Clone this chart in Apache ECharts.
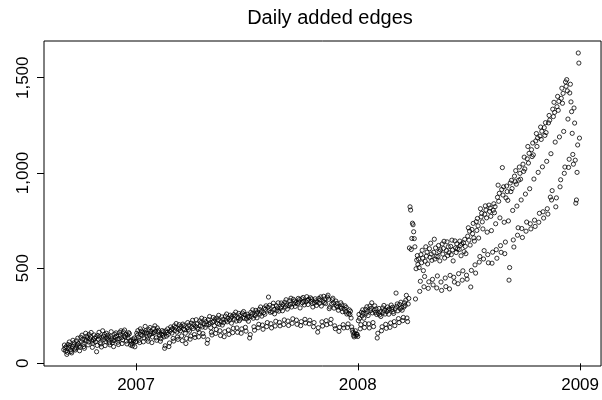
<!DOCTYPE html>
<html>
<head>
<meta charset="utf-8">
<script src="https://cdn.jsdelivr.net/npm/echarts@6/dist/echarts.min.js"></script>
<style>html,body{margin:0;padding:0;background:#fff}#c{width:602px;height:400px}</style>
</head>
<body>
<div id="c"></div>
<script>
var titleText = 'Daily added edges';
var startDate = '2006-09-04';
var yearTicks = ['2007', '2008', '2009'];
var yTicks = [0, 500, 1000, 1500];
// daily added edges, one row per week (Mon..Sun)
var weeks = [
[72,96,81,64,88,47,58],
[99,84,112,93,70,62,55],
[88,121,97,108,76,70,82],
[118,96,132,104,91,66,84],
[137,112,148,126,101,88,79],
[126,158,119,143,134,97,112],
[151,128,139,162,117,84,106],
[122,149,131,113,140,61,94],
[146,127,163,138,109,102,86],
[134,171,142,125,152,93,115],
[158,131,147,122,138,108,97],
[141,166,129,108,119,88,121],
[153,137,160,144,126,111,99],
[129,162,148,171,135,104,123],
[166,143,175,139,152,117,102],
[148,132,161,155,119,96,118],
[104,92,127,118,133,87,112],
[115,158,147,172,136,121,109],
[181,152,169,146,163,113,134],
[163,194,171,158,142,128,116],
[177,149,188,166,155,109,138],
[159,183,162,197,170,134,121],
[186,165,174,151,144,116,129],
[154,172,148,166,139,79,92],
[171,143,162,181,152,88,107],
[168,191,176,159,183,131,117],
[197,172,188,209,164,138,126],
[178,203,185,171,195,144,119],
[206,181,198,176,158,104,131],
[188,214,177,201,169,127,143],
[211,192,226,183,204,151,136],
[194,229,207,186,178,139,162],
[223,198,214,237,191,156,141],
[208,231,189,219,202,105,124],
[229,204,246,213,187,163,149],
[216,241,222,198,233,157,178],
[238,209,227,252,205,171,146],
[219,244,201,231,214,140,166],
[248,226,259,218,236,175,152],
[227,253,238,211,247,161,184],
[256,231,248,269,222,186,163],
[239,262,224,251,233,158,181],
[264,241,272,236,255,189,169],
[233,258,247,221,244,133,151],
[268,246,259,281,237,192,174],
[251,278,262,239,270,187,205],
[283,259,296,271,248,201,179],
[266,291,258,284,302,193,214],
[294,348,277,305,268,208,186],
[271,299,316,283,260,196,221],
[302,279,291,318,274,215,197],
[289,317,298,276,309,204,228],
[321,296,334,307,285,222,199],
[303,329,311,342,296,210,234],
[336,312,327,299,318,227,205],
[314,341,322,335,291,198,219],
[339,318,346,326,307,231,212],
[323,350,331,309,337,208,226],
[344,326,338,315,296,192,214],
[317,339,328,304,322,164,187],
[341,315,333,349,301,218,196],
[326,352,319,338,314,224,203],
[348,358,336,287,296,209,231],
[311,334,342,318,290,197,182],
[327,301,315,296,279,168,189],
[296,318,289,307,271,203,186],
[284,302,271,293,259,188,207],
[262,281,256,274,238,191,174],
[163,147,139,158,171,144,153],
[152,141,224,257,236,181,203],
[268,249,281,262,237,188,209],
[284,262,297,273,251,207,186],
[301,277,289,318,265,214,193],
[279,302,268,286,257,133,158],
[263,288,254,271,246,171,192],
[291,268,304,279,259,205,184],
[272,296,281,258,287,189,212],
[306,283,294,271,262,219,198],
[288,369,299,312,276,235,214],
[309,286,321,294,279,224,241],
[296,318,304,331,357,238,219],
[312,341,606,822,805,598,656],
[736,728,691,655,612,338,497],
[542,566,519,548,503,378,431],
[571,528,594,553,487,402,456],
[536,612,563,584,522,394,428],
[602,557,631,574,541,441,412],
[583,652,548,606,562,396,459],
[561,619,587,538,596,427,383],
[627,574,603,641,553,448,403],
[592,638,566,612,581,391,462],
[614,571,647,596,538,452,427],
[643,606,582,628,601,418,471],
[598,642,619,565,627,437,486],
[633,587,651,614,576,463,442],
[668,712,647,694,621,401,488],
[703,681,735,659,642,517,474],
[744,698,761,722,658,532,561],
[812,769,788,743,706,548,592],
[783,827,805,764,689,571,528],
[831,798,816,772,697,526,584],
[804,838,791,823,733,597,552],
[872,936,851,893,764,618,583],
[913,1028,884,927,741,576,637],
[869,931,902,856,748,437,503],
[947,902,961,918,803,648,611],
[983,954,1012,941,826,673,712],
[962,1031,998,967,858,708,661],
[1046,1008,1083,1021,889,694,742],
[1074,1139,1052,1103,917,733,706],
[1122,1086,1157,1095,968,752,719],
[1168,1207,1139,1184,1003,741,788],
[1193,1241,1176,1219,1032,796,763],
[1238,1197,1264,1212,1061,812,784],
[1263,1302,1277,873,1101,858,907],
[1335,1296,1371,1318,1162,822,869],
[1348,1402,1329,1376,1189,927,964],
[1392,1445,1366,1418,1218,998,1031],
[1478,1455,1490,1431,1283,1029,1072],
[1420,1466,1373,1322,1208,1097,1046],
[1341,1262,1067,841,858,1003,1147],
[1630,1577,1183]
];

var DAY = 86400000;
var t0 = Date.parse(startDate + 'T00:00:00Z');
var points = [];
var idx = 0;
weeks.forEach(function (w) {
  w.forEach(function (v) {
    points.push([t0 + idx * DAY, v]);
    idx++;
  });
});
var yearValues = yearTicks.map(function (y) { return Date.UTC(+y, 0, 1); });
var xMin = Date.UTC(2006, 7, 2, 10);
var xMax = Date.UTC(2009, 1, 4, 12);

var font = '"Liberation Sans", Arial, Helvetica, sans-serif';
var chart = echarts.init(document.getElementById('c'), null, {renderer: 'canvas'});
chart.setOption({
  animation: false,
  backgroundColor: '#ffffff',
  title: {
    text: titleText,
    left: 325,
    top: 3,
    textAlign: 'center',
    textStyle: {fontFamily: font, fontSize: 20, fontWeight: 'normal', color: '#000'}
  },
  grid: {
    left: 44, top: 41, right: -3, bottom: 34,
    show: true, borderColor: '#000', borderWidth: 1, backgroundColor: 'transparent'
  },
  xAxis: {
    type: 'value',
    min: xMin, max: xMax,
    splitLine: {show: false},
    axisLine: {show: false},
    axisTick: {show: true, length: 7, inside: false, lineStyle: {color: '#000', width: 1}, customValues: yearValues},
    axisLabel: {
      customValues: yearValues,
      margin: 11,
      fontFamily: font, fontSize: 17, color: '#000',
      formatter: function (v) { return String(new Date(v).getUTCFullYear()); }
    }
  },
  yAxis: {
    type: 'value',
    min: -14, max: 1693,
    splitLine: {show: false},
    axisLine: {show: false},
    axisTick: {show: true, length: 7, inside: false, lineStyle: {color: '#000', width: 1}, customValues: yTicks},
    axisLabel: {
      customValues: yTicks,
      rotate: 90,
      margin: 12,
      fontFamily: font, fontSize: 17, color: '#000',
      formatter: function (v) { return v.toLocaleString('en-US'); }
    }
  },
  series: [{
    type: 'scatter',
    data: points,
    symbol: 'circle',
    symbolSize: 4.2,
    itemStyle: {color: 'rgba(0,0,0,0)', borderColor: '#000', borderWidth: 1},
    emphasis: {disabled: true}
  }]
});
</script>
</body>
</html>
